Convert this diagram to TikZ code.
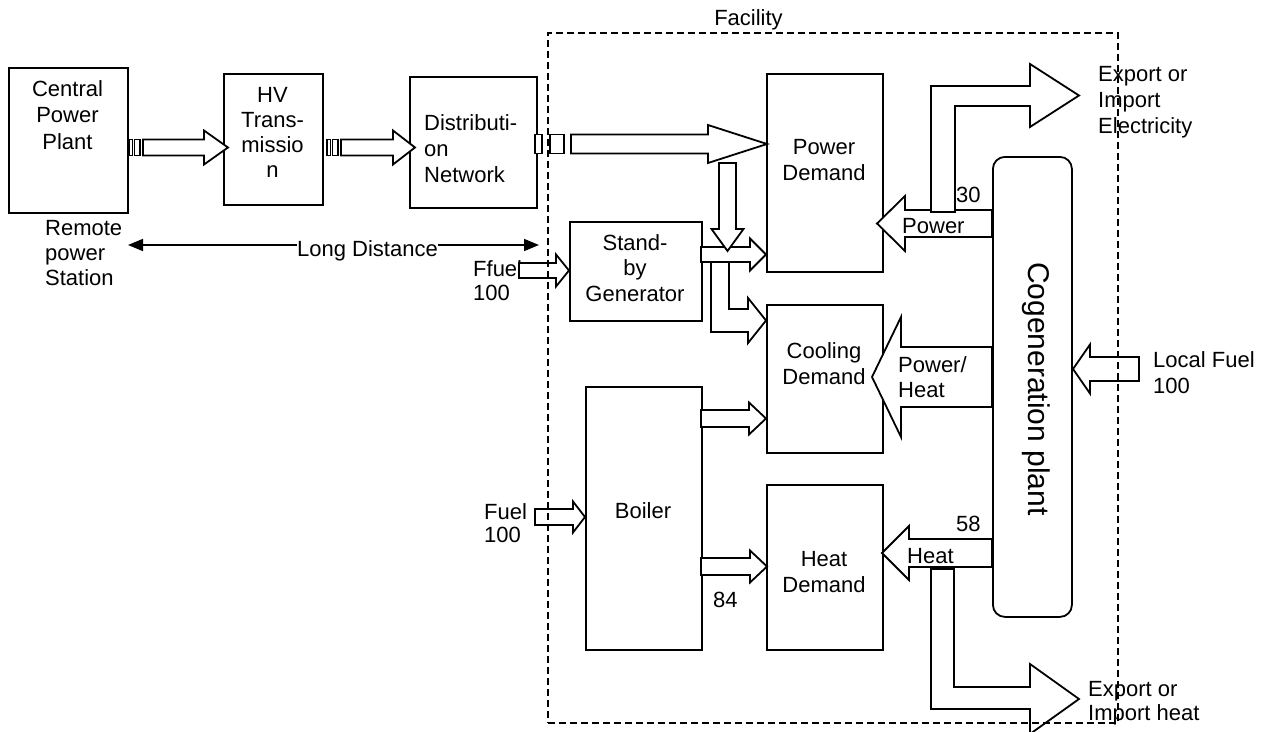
\documentclass[tikz,border=0pt]{standalone}
\usepackage{fontspec}
\setmainfont{Liberation Sans}
\usetikzlibrary{arrows.meta}
\tikzset{
  box/.style={draw, line width=1.8pt, fill=white, inner sep=0pt, anchor=north west},
  blk/.style={draw, line width=1.8pt, fill=white, line join=miter},
  txt/.style={inner sep=0pt, font=\fontsize{22}{26}\selectfont, align=center},
  txtl/.style={txt, align=left, anchor=base west},
  txtc/.style={txt, anchor=base},
  dist/.style={line width=1.6pt, {Triangle[length=15pt,width=12pt]}-{Triangle[length=15pt,width=12pt]}},
  facil/.style={draw, line width=1.5pt, dash pattern=on 7pt off 4pt, inner sep=0pt, anchor=north west},
}
\newcommand\mybox[6][]{\node[box,#1, minimum width={#5-#3}, minimum height={#6-#4}] (#2) at (#3,#4) {};}
% tail x, tip x, y centre, shaft half, head half, head length (signed)
\newcommand\harr[6]{\draw[blk] ({#1},{#3-#4}) -- ({#2-(#6)},{#3-#4}) -- ({#2-(#6)},{#3-#5}) -- ({#2},{#3}) -- ({#2-(#6)},{#3+#5}) -- ({#2-(#6)},{#3+#4}) -- ({#1},{#3+#4}) -- cycle;}
\newcommand\stripe[5][1.8pt]{\draw[blk, line width=#1] (#2,#4) rectangle (#3,#5);}
\begin{document}
\begin{tikzpicture}[x=1pt,y=-1pt]
\clip (0,0) rectangle (1266,731);
\fill[white] (0,0) rectangle (1266,731);

% boxes
\mybox{cpp}{8}{67}{127}{212}
\mybox{hv}{223}{73}{322}{204}
\mybox{dn}{409}{76}{536}{207}
\mybox{pd}{766}{73}{882}{271}
\mybox{sb}{569}{221}{701}{320}
\mybox{cool}{766}{304}{882}{452}
\mybox{boil}{585}{386}{701}{649}
\mybox{heat}{766}{484}{882}{649}
\mybox[rounded corners=12pt]{cogen}{992}{156}{1071}{616}

% box texts (anchor = baseline of the last line)
\node[txtc, font=\fontsize{22}{26.5}\selectfont] (tcpp) at (67.5,149) {Central\\Power\\Plant};
\node[txtc, font=\fontsize{22}{25}\selectfont] (thv) at (272.5,177) {HV\\Trans-\\missio\\n};
\node[txtl] (tdn) at (424,182) {Distributi-\\on\\Network};
\node[txtc] (tpd) at (824,180) {Power\\Demand};
\node[txtc, font=\fontsize{22}{25.5}\selectfont] (tsb) at (635,301) {Stand-\\by\\Generator};
\node[txtc] (tcool) at (824,384) {Cooling\\Demand};
\node[txtc] (tboil) at (643,518) {Boiler};
\node[txtc] (theat) at (824,592) {Heat\\Demand};
\node[inner sep=0pt, font=\fontsize{30}{34}\selectfont, rotate=-90, anchor=base] (tcogen) at (1028,389) {Cogeneration plant};

% outside labels
\node[txtl, font=\fontsize{22}{25}\selectfont] (tremote) at (45,285) {Remote\\power\\Station};
\node[txtl, font=\fontsize{22}{24}\selectfont] (tffuel) at (473,300) {Ffuel\\100};
\node[txtl, font=\fontsize{22}{23}\selectfont] (tfuel) at (484,542) {Fuel\\100};
\node[txtl] (tlocal) at (1153,393) {Local Fuel\\100};
\node[txtl] (texpe) at (1098,133) {Export or\\Import\\Electricity};
\node[txtl, font=\fontsize{22}{24}\selectfont] (texph) at (1088,720) {Export or\\Import heat};
\node[txtc] (tfac) at (748.5,25) {Facility};

% long distance
\coordinate (ldL) at (128,245);
\coordinate (ldR) at (539,245);
\draw[dist] (ldL) -- (ldR);
\node[txt, anchor=base west, fill=white] (tld) at (297,256) {Long Distance};

% striped arrows
\stripe[1.1pt]{129}{132.5}{139.5}{155.5}
\stripe[1.1pt]{134.5}{140}{139.5}{155.5}
\harr{143}{228}{147.5}{8}{17}{24}
\stripe[1.1pt]{327}{330.5}{139.5}{155.5}
\stripe[1.1pt]{332.5}{338}{139.5}{155.5}
\harr{341}{415}{147.5}{8}{17}{22}
\stripe{535}{542}{134.5}{153.5}
\stripe{550}{564}{134.5}{153.5}
\harr{571}{767}{144}{9.5}{19}{59}

% stand-by outputs
\harr{701}{766}{254.5}{7.5}{16}{16}
\draw[blk] (711,262) -- (711,332) -- (748,332) -- (748,343) -- (766,320.5) -- (748,298) -- (748,309) -- (729,309) -- (729,262) -- cycle;
\draw[blk] (719,163) -- (719,229) -- (711.5,229) -- (727.5,251) -- (743.5,229) -- (736,229) -- (736,163) -- cycle;

% fuel inputs
\harr{519}{569}{270.5}{7.5}{16}{13}
\harr{535}{585}{517}{8}{15.5}{12}
\harr{1139}{1073}{369}{12}{24.5}{-17}

% boiler outputs
\harr{701}{766}{418.5}{8.5}{16}{17}
\harr{701}{767}{566.5}{8.5}{16}{17}
\node[txtl] (t84) at (713,607) {84};

% cogeneration outputs
\harr{992}{877}{223.5}{13.5}{27.5}{-28}
\harr{992}{872}{377}{30}{60}{-29}
\harr{992}{882}{553}{14}{27}{-27}
\draw[blk] (931,212) -- (931,86) -- (1030,86) -- (1030,64) -- (1079,95.5) -- (1030,127) -- (1030,106) -- (955,106) -- (955,212) -- cycle;
\draw[blk] (931,569) -- (931,709) -- (1030,709) -- (1030,734) -- (1079,699) -- (1030,664) -- (1030,687) -- (954,687) -- (954,569) -- cycle;

\node[txtl] (tpow) at (902,233) {Power};
\node[txtl] (t30) at (956,202) {30};
\node[txtl, font=\fontsize{22}{25}\selectfont] (tph) at (898,397) {Power/\\Heat};
\node[txtl] (t58) at (956,531) {58};
\node[txtl] (theatl) at (907,563) {Heat};

% facility boundary
\node[facil, minimum width=570pt, minimum height=690pt] (fac) at (547,32) {};
\end{tikzpicture}
\end{document}
